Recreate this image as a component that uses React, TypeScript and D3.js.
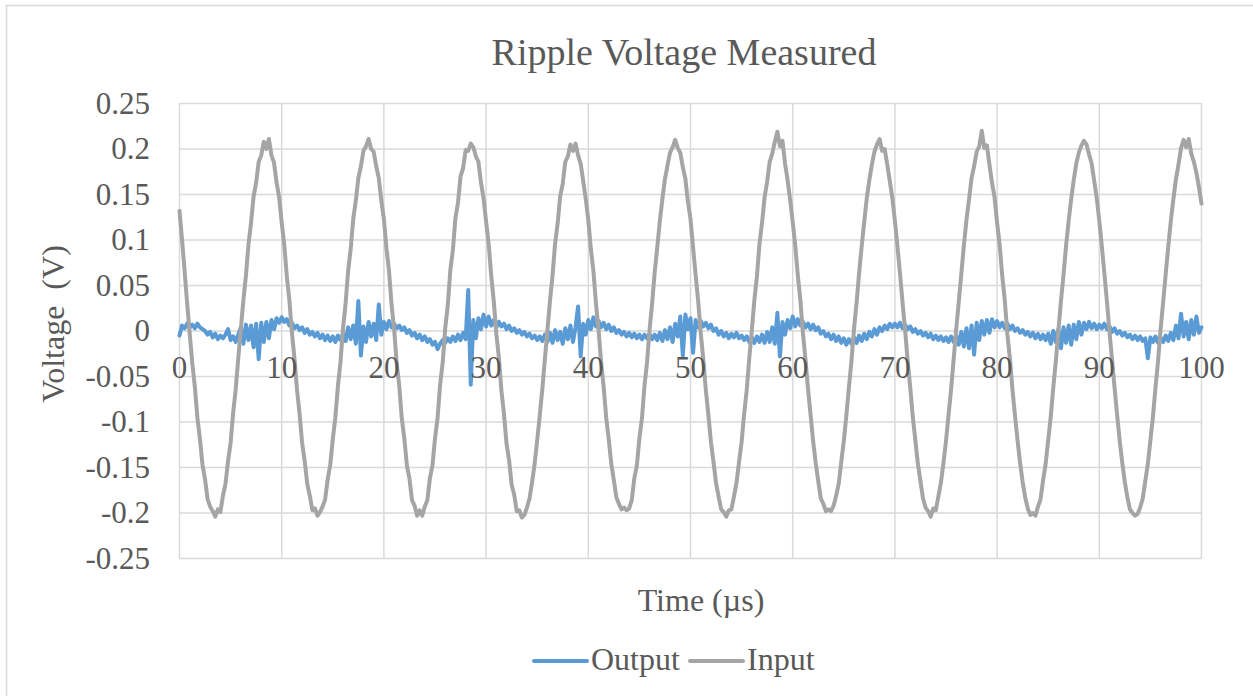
import React from 'react';
import * as d3 from 'd3';

// samples are 0.25 µs apart, 0..100 µs
const sampleStep = 0.25;

const timeTicks = [0, 10, 20, 30, 40, 50, 60, 70, 80, 90, 100];
const voltTicks = [-0.25, -0.2, -0.15, -0.1, -0.05, 0, 0.05, 0.1, 0.15, 0.2, 0.25];

const inputVolts = [
  0.132, 0.100, 0.066, 0.030, -0.003, -0.035, -0.061, -0.095, -0.119, -0.147,
  -0.163, -0.185, -0.193, -0.198, -0.204, -0.196, -0.199, -0.181, -0.168, -0.143,
  -0.123, -0.090, -0.064, -0.030, 0.002, 0.034, 0.061, 0.095, 0.119, 0.148,
  0.163, 0.186, 0.193, 0.208, 0.200, 0.211, 0.193, 0.185, 0.163, 0.147,
  0.119, 0.095, 0.060, 0.034, -0.002, -0.030, -0.065, -0.091, -0.123, -0.143,
  -0.168, -0.181, -0.197, -0.195, -0.203, -0.199, -0.193, -0.185, -0.163, -0.147,
  -0.119, -0.095, -0.061, -0.034, 0.003, 0.030, 0.066, 0.090, 0.123, 0.143,
  0.168, 0.181, 0.198, 0.203, 0.211, 0.200, 0.197, 0.181, 0.168, 0.143,
  0.123, 0.091, 0.066, 0.029, 0.002, -0.035, -0.060, -0.096, -0.118, -0.148,
  -0.162, -0.186, -0.192, -0.203, -0.197, -0.203, -0.193, -0.186, -0.162, -0.148,
  -0.118, -0.096, -0.059, -0.035, 0.003, 0.028, 0.067, 0.089, 0.124, 0.141,
  0.170, 0.179, 0.199, 0.198, 0.206, 0.202, 0.192, 0.186, 0.163, 0.146,
  0.120, 0.096, 0.061, 0.033, -0.003, -0.029, -0.066, -0.091, -0.124, -0.142,
  -0.169, -0.180, -0.198, -0.197, -0.205, -0.202, -0.194, -0.184, -0.166, -0.146,
  -0.120, -0.093, -0.064, -0.031, 0.001, 0.033, 0.061, 0.096, 0.118, 0.148,
  0.162, 0.186, 0.192, 0.205, 0.198, 0.206, 0.193, 0.184, 0.165, 0.145,
  0.122, 0.090, 0.066, 0.030, 0.002, -0.034, -0.061, -0.095, -0.119, -0.146,
  -0.164, -0.183, -0.190, -0.196, -0.194, -0.197, -0.195, -0.186, -0.162, -0.148,
  -0.118, -0.096, -0.060, -0.034, 0.002, 0.031, 0.065, 0.092, 0.121, 0.145,
  0.167, 0.182, 0.196, 0.202, 0.210, 0.201, 0.196, 0.180, 0.167, 0.142,
  0.123, 0.092, 0.062, 0.033, -0.002, -0.031, -0.065, -0.092, -0.122, -0.144,
  -0.167, -0.182, -0.196, -0.199, -0.204, -0.197, -0.196, -0.182, -0.167, -0.144,
  -0.122, -0.091, -0.065, -0.030, 0.001, 0.034, 0.060, 0.096, 0.119, 0.147,
  0.164, 0.186, 0.195, 0.208, 0.219, 0.203, 0.209, 0.184, 0.166, 0.144,
  0.120, 0.094, 0.061, 0.034, -0.002, -0.031, -0.064, -0.092, -0.121, -0.145,
  -0.165, -0.184, -0.190, -0.198, -0.196, -0.198, -0.192, -0.181, -0.168, -0.144,
  -0.121, -0.093, -0.062, -0.033, 0.002, 0.031, 0.064, 0.093, 0.120, 0.146,
  0.166, 0.183, 0.197, 0.205, 0.211, 0.198, 0.200, 0.183, 0.165, 0.146,
  0.121, 0.093, 0.063, 0.031, 0.001, -0.033, -0.062, -0.094, -0.120, -0.146,
  -0.165, -0.184, -0.194, -0.198, -0.204, -0.195, -0.197, -0.182, -0.167, -0.145,
  -0.121, -0.092, -0.064, -0.031, 0.002, 0.032, 0.063, 0.094, 0.122, 0.144,
  0.168, 0.181, 0.197, 0.203, 0.220, 0.201, 0.204, 0.183, 0.163, 0.147,
  0.119, 0.095, 0.061, 0.034, -0.003, -0.030, -0.064, -0.093, -0.120, -0.145,
  -0.166, -0.183, -0.195, -0.202, -0.200, -0.203, -0.193, -0.185, -0.164, -0.146,
  -0.120, -0.094, -0.062, -0.033, 0.001, 0.033, 0.062, 0.094, 0.121, 0.145,
  0.166, 0.184, 0.196, 0.204, 0.209, 0.205, 0.194, 0.184, 0.165, 0.146,
  0.121, 0.093, 0.063, 0.032, -0.001, -0.032, -0.063, -0.093, -0.121, -0.145,
  -0.166, -0.183, -0.196, -0.200, -0.203, -0.201, -0.194, -0.184, -0.165, -0.146,
  -0.120, -0.094, -0.062, -0.033, 0.002, 0.032, 0.063, 0.093, 0.121, 0.145,
  0.167, 0.183, 0.201, 0.210, 0.202, 0.211, 0.195, 0.186, 0.174, 0.158,
  0.140,
];

const outputVolts = [
  -0.005, 0.006, 0.003, 0.008, 0.004, 0.007, 0.003, 0.008, 0.004, 0.002,
  0.000, -0.004, -0.001, -0.007, -0.003, -0.009, -0.005, -0.008, -0.004, 0.002,
  -0.010, -0.006, -0.012, -0.004, 0.004, -0.014, 0.007, -0.010, 0.006, -0.018,
  0.008, -0.031, 0.009, -0.012, 0.010, -0.008, 0.012, 0.002, 0.014, 0.009,
  0.015, 0.010, 0.013, 0.006, 0.009, 0.003, 0.006, 0.001, 0.004, -0.002,
  0.002, -0.004, -0.001, -0.006, -0.002, -0.008, -0.004, -0.010, -0.005, -0.011,
  -0.006, -0.012, -0.005, -0.010, -0.003, -0.011, 0.004, -0.009, 0.006, -0.014,
  0.033, -0.027, 0.005, -0.012, 0.010, -0.006, 0.008, -0.010, 0.029, -0.004,
  0.010, 0.002, 0.011, 0.004, 0.008, 0.003, 0.006, 0.001, 0.004, -0.002,
  0.001, -0.005, -0.002, -0.008, -0.004, -0.010, -0.006, -0.012, -0.009, -0.015,
  -0.012, -0.020, -0.014, -0.010, -0.013, -0.008, -0.012, -0.006, -0.011, -0.004,
  -0.010, -0.002, -0.009, 0.045, -0.059, 0.012, -0.008, 0.014, 0.002, 0.018,
  0.005, 0.016, 0.006, 0.012, 0.004, 0.010, 0.005, 0.008, 0.002, 0.006,
  0.000, 0.003, -0.002, 0.001, -0.004, -0.001, -0.006, -0.003, -0.008, -0.005,
  -0.010, -0.006, -0.011, -0.004, -0.012, -0.002, -0.013, 0.001, -0.010, -0.001,
  -0.014, 0.003, -0.009, 0.006, -0.012, 0.004, 0.027, -0.028, 0.008, -0.004,
  0.012, 0.002, 0.015, 0.005, 0.011, 0.004, 0.009, 0.002, 0.007, 0.000,
  0.004, -0.002, 0.001, -0.004, -0.001, -0.006, -0.002, -0.007, -0.003, -0.008,
  -0.004, -0.009, -0.004, -0.008, -0.003, -0.009, -0.004, -0.010, -0.002, -0.011,
  0.001, -0.009, 0.004, -0.012, 0.008, -0.006, 0.016, -0.027, 0.018, 0.002,
  0.014, -0.024, 0.012, 0.004, 0.011, 0.005, 0.009, 0.003, 0.007, 0.000,
  0.003, -0.004, 0.000, -0.006, -0.002, -0.008, -0.003, -0.007, -0.002, -0.008,
  -0.005, -0.010, -0.006, -0.012, -0.007, -0.013, -0.006, -0.012, -0.004, -0.013,
  -0.001, -0.012, 0.004, -0.014, 0.020, -0.028, 0.010, -0.004, 0.012, 0.003,
  0.016, 0.005, 0.013, 0.006, 0.010, 0.004, 0.008, 0.002, 0.007, 0.001,
  0.004, -0.003, 0.000, -0.006, -0.003, -0.009, -0.004, -0.011, -0.006, -0.013,
  -0.008, -0.015, -0.009, -0.014, -0.007, -0.013, -0.005, -0.011, -0.003, -0.009,
  -0.001, -0.006, 0.002, -0.004, 0.004, 0.000, 0.006, 0.002, 0.008, 0.004,
  0.008, 0.004, 0.009, 0.003, 0.007, 0.002, 0.005, -0.001, 0.002, -0.003,
  0.000, -0.005, -0.002, -0.007, -0.003, -0.009, -0.005, -0.010, -0.006, -0.011,
  -0.007, -0.012, -0.006, -0.012, -0.005, -0.015, -0.001, -0.017, 0.003, -0.019,
  0.006, -0.026, 0.009, -0.010, 0.011, -0.004, 0.012, -0.002, 0.013, 0.004,
  0.011, 0.004, 0.009, 0.003, 0.008, 0.002, 0.006, 0.000, 0.003, -0.002,
  0.001, -0.004, -0.001, -0.006, -0.002, -0.008, -0.003, -0.009, -0.004, -0.010,
  -0.003, -0.014, 0.000, -0.012, 0.002, -0.019, 0.004, -0.013, 0.006, -0.015,
  0.007, -0.009, 0.010, -0.004, 0.009, 0.002, 0.010, 0.003, 0.008, 0.002,
  0.007, 0.003, 0.008, 0.002, 0.005, -0.001, 0.003, -0.003, 0.000, -0.005,
  -0.002, -0.007, -0.004, -0.009, -0.005, -0.010, -0.006, -0.011, -0.008, -0.030,
  -0.007, -0.012, -0.006, -0.013, -0.007, -0.012, -0.005, -0.011, -0.002, -0.010,
  0.006, -0.008, 0.019, -0.006, 0.010, -0.009, 0.012, -0.004, 0.016, -0.002,
  0.004,
];

const OUTPUT_COLOR = '#5b9bd5';
const INPUT_COLOR = '#a5a5a5';
const TEXT_COLOR = '#595959';
const GRID_COLOR = '#d9d9d9';
const FONT = '"Liberation Serif", "Times New Roman", serif';

export default function App() {
  const width = 1253;
  const height = 696;

  const x = d3.scaleLinear().domain([0, 100]).range([179.5, 1201.5]);
  const y = d3.scaleLinear().domain([-0.25, 0.25]).range([558.5, 103.5]);

  const line = d3.line<number>()
    .x((_, i) => x(i * sampleStep))
    .y(d => y(d));

  const y0 = y(0);

  return (
    <div style={{ position: 'absolute', left: 0, top: 0 }}>
      <svg width={width} height={height} style={{ display: 'block', background: '#fff' }}>
        {/* chart area border */}
        <rect x={6.5} y={5.5} width={1260} height={700} fill="#fff" stroke={GRID_COLOR} strokeWidth={1.5} />

        {/* gridlines */}
        {voltTicks.map(v => (
          <line key={'h' + v} x1={x(0)} x2={x(100)} y1={y(v)} y2={y(v)} stroke={GRID_COLOR} strokeWidth={1.5} />
        ))}
        {timeTicks.map(t => (
          <line key={'v' + t} x1={x(t)} x2={x(t)} y1={y(0.25)} y2={y(-0.25)} stroke={GRID_COLOR} strokeWidth={1.5} />
        ))}

        {/* series */}
        <path d={line(outputVolts) || ''} fill="none" stroke={OUTPUT_COLOR} strokeWidth={4} strokeLinejoin="round" strokeLinecap="round" />
        <path d={line(inputVolts) || ''} fill="none" stroke={INPUT_COLOR} strokeWidth={4} strokeLinejoin="round" strokeLinecap="round" />

        {/* y tick labels */}
        {voltTicks.map(v => (
          <text key={'yl' + v} x={150} y={y(v) + 10} textAnchor="end" fontFamily={FONT} fontSize={31} fill={TEXT_COLOR}>
            {String(v)}
          </text>
        ))}

        {/* x tick labels next to the zero line */}
        {timeTicks.map(t => (
          <text key={'xl' + t} x={x(t)} y={y0 + 47} textAnchor="middle" fontFamily={FONT} fontSize={31} fill={TEXT_COLOR}>
            {t}
          </text>
        ))}

        {/* title */}
        <text x={684} y={65} textAnchor="middle" fontFamily={FONT} fontSize={38} fill={TEXT_COLOR}>
          Ripple Voltage Measured
        </text>

        {/* axis titles */}
        <text x={701} y={611} textAnchor="middle" fontFamily={FONT} fontSize={32} fill={TEXT_COLOR}>
          Time (µs)
        </text>
        <text
          transform="translate(64,324) rotate(-90)"
          textAnchor="middle"
          fontFamily={FONT}
          fontSize={32}
          fill={TEXT_COLOR}
          style={{ whiteSpace: 'pre' }}
        >
          {'Voltage  (V)'}
        </text>

        {/* legend */}
        <line x1={534} x2={587} y1={661} y2={661} stroke={OUTPUT_COLOR} strokeWidth={4} strokeLinecap="round" />
        <text x={591} y={670} fontFamily={FONT} fontSize={32} fill={TEXT_COLOR}>Output</text>
        <line x1={690} x2={743} y1={661} y2={661} stroke={INPUT_COLOR} strokeWidth={4} strokeLinecap="round" />
        <text x={747} y={670} fontFamily={FONT} fontSize={32} fill={TEXT_COLOR}>Input</text>
      </svg>
    </div>
  );
}
